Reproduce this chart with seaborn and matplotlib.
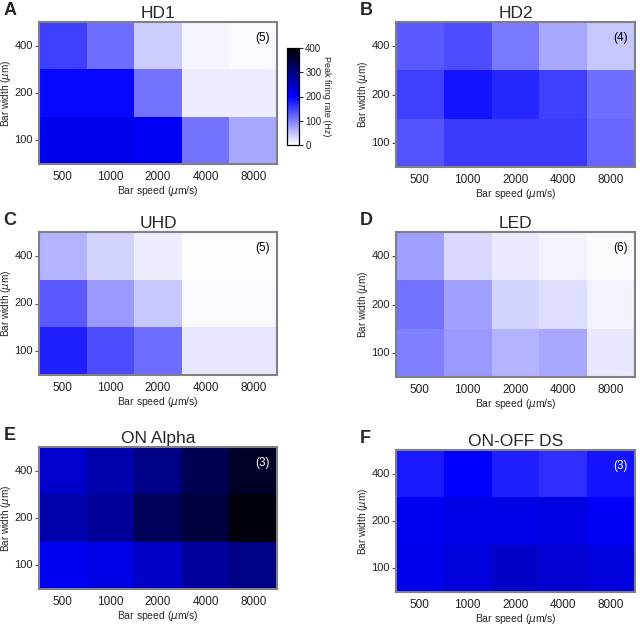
import numpy as np
import pandas as pd
import matplotlib
matplotlib.use("Agg")
import matplotlib.pyplot as plt
from matplotlib.colors import LinearSegmentedColormap
import seaborn as sns

speeds = [500, 1000, 2000, 4000, 8000]
widths = [400, 200, 100]

# peak firing rate (Hz), rows = bar width 400/200/100, cols = bar speed
hd1 = [[150, 115, 40, 8, 5],
       [195, 195, 110, 15, 15],
       [215, 215, 205, 110, 70]]
hd2 = [[130, 140, 105, 70, 45],
       [150, 185, 170, 150, 115],
       [135, 155, 155, 155, 120]]
uhd = [[60, 35, 15, 2, 2],
       [130, 80, 45, 5, 5],
       [175, 140, 115, 20, 20]]
led = [[75, 30, 18, 10, 4],
       [110, 75, 35, 28, 10],
       [100, 80, 60, 70, 20]]
on_alpha = [[240, 265, 295, 335, 370],
            [265, 280, 330, 350, 390],
            [210, 220, 245, 275, 295]]
onoff_ds = [[180, 200, 175, 165, 185],
            [210, 220, 220, 222, 205],
            [215, 228, 245, 235, 228]]

panels = [("A", "HD1", hd1, 5), ("B", "HD2", hd2, 4),
          ("C", "UHD", uhd, 5), ("D", "LED", led, 6),
          ("E", "ON Alpha", on_alpha, 3), ("F", "ON-OFF DS", onoff_ds, 3)]
count_colors = ["black", "black", "black", "black", "white", "white"]

sns.set_style("ticks")
plt.rcParams["font.family"] = ["Liberation Sans", "DejaVu Sans"]

cmap = LinearSegmentedColormap.from_list("wbk", [(0, "white"), (0.5, "#0000ff"), (1, "black")])

fig = plt.figure(figsize=(6.4, 6.25), dpi=100)
W, H = 640, 625
# axes rectangles in pixels: left, top, right, bottom
boxes = [(39, 22, 277, 164), (396, 22, 635, 167),
         (39, 232, 277, 375), (396, 232, 635, 377),
         (39, 447, 277, 589), (396, 450, 635, 592)]

for i, (letter, title, vals, n) in enumerate(panels):
    l, t, r, b = boxes[i]
    ax = fig.add_axes([l / W, 1 - b / H, (r - l) / W, (b - t) / H])
    df = pd.DataFrame(vals, index=widths, columns=speeds)
    cax = None
    if i == 0:
        cax = fig.add_axes([287 / W, 1 - 145 / H, 12 / W, 97 / H])
    sns.heatmap(df, ax=ax, cmap=cmap, vmin=0, vmax=400, cbar=(i == 0), cbar_ax=cax)
    for s in ax.spines.values():
        s.set_visible(True)
        s.set_color("#808080")
        s.set_linewidth(1.5)
    ax.tick_params(axis="x", length=0, pad=5, labelsize=8.5, colors="#222222")
    ax.tick_params(axis="y", length=3, width=0.8, pad=1.5, color="#555555",
                   labelsize=8, labelcolor="#222222")
    ax.set_yticklabels([str(w) for w in widths], rotation=0)
    ax.set_xticklabels([str(s) for s in speeds], rotation=0)
    ax.set_xlabel(r"Bar speed ($\mu$m/s)", fontsize=7.5, labelpad=1)
    ax.set_ylabel(r"Bar width ($\mu$m)", fontsize=7.2, labelpad=1)
    ax.set_title(title, fontsize=12.5, pad=3)
    ax.text(0.97, 0.93, "(%d)" % n, transform=ax.transAxes, ha="right", va="top",
            fontsize=8.5, color=count_colors[i])
    ax.text(-0.15, 1.02, letter, transform=ax.transAxes, ha="left", va="bottom",
            fontsize=13, fontweight="bold")
    if i == 0:
        cax.tick_params(labelsize=7, length=3, width=0.8, pad=1.5)
        cax.set_yticks([0, 100, 200, 300, 400])
        cax.set_ylabel("Peak firing rate (Hz)", rotation=270, fontsize=6.5, labelpad=7)
        for s in cax.spines.values():
            s.set_visible(True)
            s.set_color("black")
            s.set_linewidth(0.8)

fig.savefig("out.png", dpi=100)
